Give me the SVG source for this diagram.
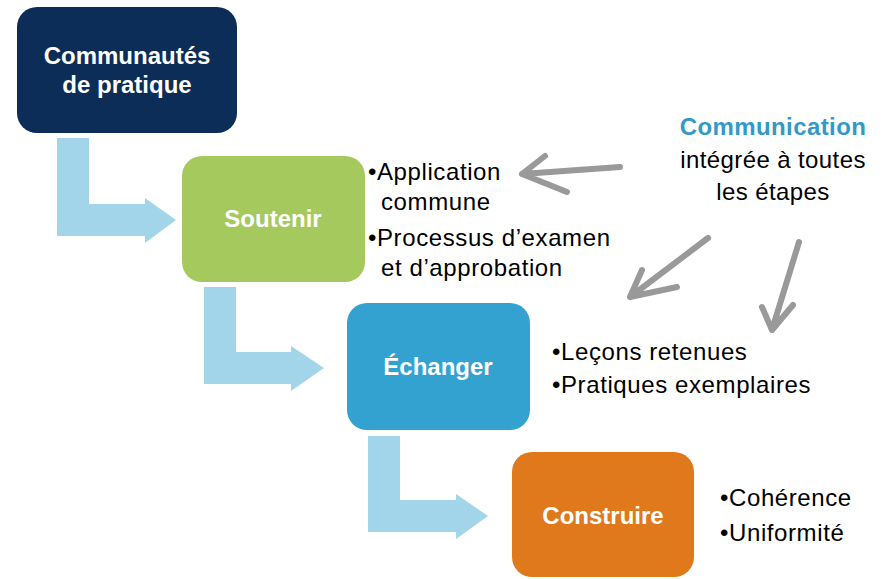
<svg xmlns="http://www.w3.org/2000/svg" width="889" height="579" viewBox="0 0 889 579">
<style>
.lbl{font-family:"Liberation Sans",Arial,sans-serif;font-weight:bold;font-size:24px;fill:#ffffff;text-anchor:middle}
.txt{font-family:"Liberation Sans",Arial,sans-serif;font-size:24px;letter-spacing:0.6px;fill:#000000}
.com{font-family:"Liberation Sans",Arial,sans-serif;font-size:24px;letter-spacing:0.4px;fill:#000000;text-anchor:middle}
.blk{fill:#A3D5EA}
.hand{fill:none;stroke:#999999;stroke-width:6;stroke-linecap:round;stroke-linejoin:round}
</style>
<rect width="889" height="579" fill="#ffffff"/>
<g id="connectors">
<path class="blk" d="M57,138 H89 V204 H145 V198 L176,220 L145,243 V236 H57 Z"/>
<path class="blk" d="M204,287 H236 V352 H291 V346 L324,368 L291,391 V384 H204 Z"/>
<path class="blk" d="M368,436 H400 V500 H456 V494 L488,516 L456,539 V532 H368 Z"/>
<path class="hand" d="M620,167 L522,174 M545,156 L522,174 L567,192"/>
<path class="hand" d="M708,238 L630,297 M642,270 L630,297 L677,287"/>
<path class="hand" d="M799,242 L772,330 M762,307 L772,330 L793,305"/>
</g>
<g id="n1">
<rect x="17" y="7" width="220" height="126" rx="20" fill="#0B2D57"/>
<text class="lbl" x="127" y="64">Communautés</text>
<text class="lbl" x="127" y="93">de pratique</text>
</g>
<g id="n2">
<rect x="182" y="156" width="183" height="126" rx="20" fill="#A5C95D"/>
<text class="lbl" x="273" y="227">Soutenir</text>
</g>
<g id="n3">
<rect x="347" y="303" width="183" height="127" rx="20" fill="#33A2D0"/>
<text class="lbl" x="438" y="375">Échanger</text>
</g>
<g id="n4">
<rect x="512" y="452" width="182" height="125" rx="20" fill="#DF791C"/>
<text class="lbl" x="603" y="524">Construire</text>
</g>
<g id="t2">
<text class="txt" x="368" y="180">•Application</text>
<text class="txt" x="381" y="210">commune</text>
<text class="txt" x="368" y="246">•Processus d’examen</text>
<text class="txt" x="381" y="276">et d’approbation</text>
</g>
<g id="t3">
<text class="txt" x="552" y="360">•Leçons retenues</text>
<text class="txt" x="552" y="393">•Pratiques exemplaires</text>
</g>
<g id="t4">
<text class="txt" x="720" y="506">•Cohérence</text>
<text class="txt" x="720" y="541">•Uniformité</text>
</g>
<g id="comm">
<text class="com" x="773" y="135" style="font-weight:bold;fill:#3399C6">Communication</text>
<text class="com" x="773" y="168">intégrée à toutes</text>
<text class="com" x="773" y="200">les étapes</text>
</g>
</svg>
